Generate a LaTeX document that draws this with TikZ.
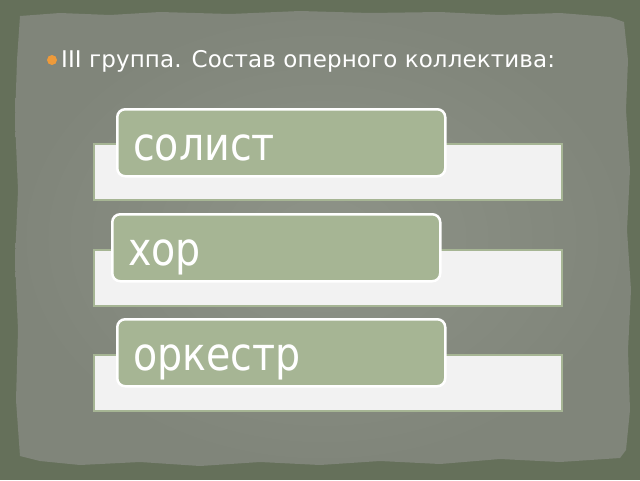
\documentclass[tikz,border=0pt]{standalone}
\usepackage{fontspec}
\setmainfont{DejaVu Sans}
\newfontfamily\tagfont[FakeStretch=0.86]{DejaVu Sans}
\newfontfamily\titlefont[LetterSpace=0.5]{DejaVu Sans}
\usetikzlibrary{positioning}

\definecolor{outergreen}{HTML}{65705A}
\definecolor{papermid}{HTML}{8E9388}
\definecolor{paperedge}{HTML}{80857A}
\definecolor{sage}{HTML}{A6B594}
\definecolor{barwhite}{HTML}{F2F2F2}
\definecolor{bulletorange}{HTML}{EE9A3A}

\begin{document}
\begin{tikzpicture}[x=1pt,y=-1pt,
    bar/.style={draw=sage,line width=2pt,fill=barwhite,minimum width=468pt,minimum height=56pt,inner sep=0pt,anchor=north west},
    tag/.style={draw=white,line width=2.5pt,fill=sage,rounded corners=8pt,minimum width=328pt,minimum height=67pt,inner sep=0pt,anchor=north west},
    tagtext/.style={text=white,font=\tagfont\fontsize{46}{46}\selectfont,anchor=base west,inner sep=0pt}]
    \useasboundingbox (0,0) rectangle (640,480);
    \fill[outergreen] (0,0) rectangle (640,480);
    % torn paper
    \shade[inner color=papermid,outer color=paperedge]
        (20,16) -- (60,13) -- (110,15) -- (160,12) -- (230,14) -- (300,11) -- (370,13)
        -- (440,12) -- (500,15) -- (560,13) -- (610,17) -- (624,22) -- (628,60) -- (626,110)
        -- (630,170) -- (627,230) -- (631,290) -- (628,350) -- (630,410) -- (626,450)
        -- (620,458) -- (560,462) -- (500,459) -- (440,464) -- (380,461) -- (320,465)
        -- (260,462) -- (200,466) -- (140,462) -- (80,465) -- (40,461) -- (20,456)
        -- (16,400) -- (18,330) -- (15,260) -- (18,190) -- (15,120) -- (17,60) -- cycle;

    \node[circle,fill=bulletorange,minimum size=10pt,inner sep=0pt] (bullet) at (52,60) {};
    \node[anchor=base west,text=white,font=\titlefont\fontsize{23}{23}\selectfont,inner sep=0pt] (title) at (61,67) {III группа. Состав оперного коллектива:};

    \node[bar] (bar1) at (93,143) {};
    \node[bar] (bar2) at (93,249) {};
    \node[bar] (bar3) at (93,354) {};

    \node[tag] (tag1) at (116,108) {};
    \node[tag] (tag2) at (111,213) {};
    \node[tag] (tag3) at (116,318) {};

    \node[tagtext] (soloist) at (133,160) {солист};
    \node[tagtext] (choir) at (128,265) {хор};
    \node[tagtext] (orchestra) at (133,370) {оркестр};
\end{tikzpicture}
\end{document}
